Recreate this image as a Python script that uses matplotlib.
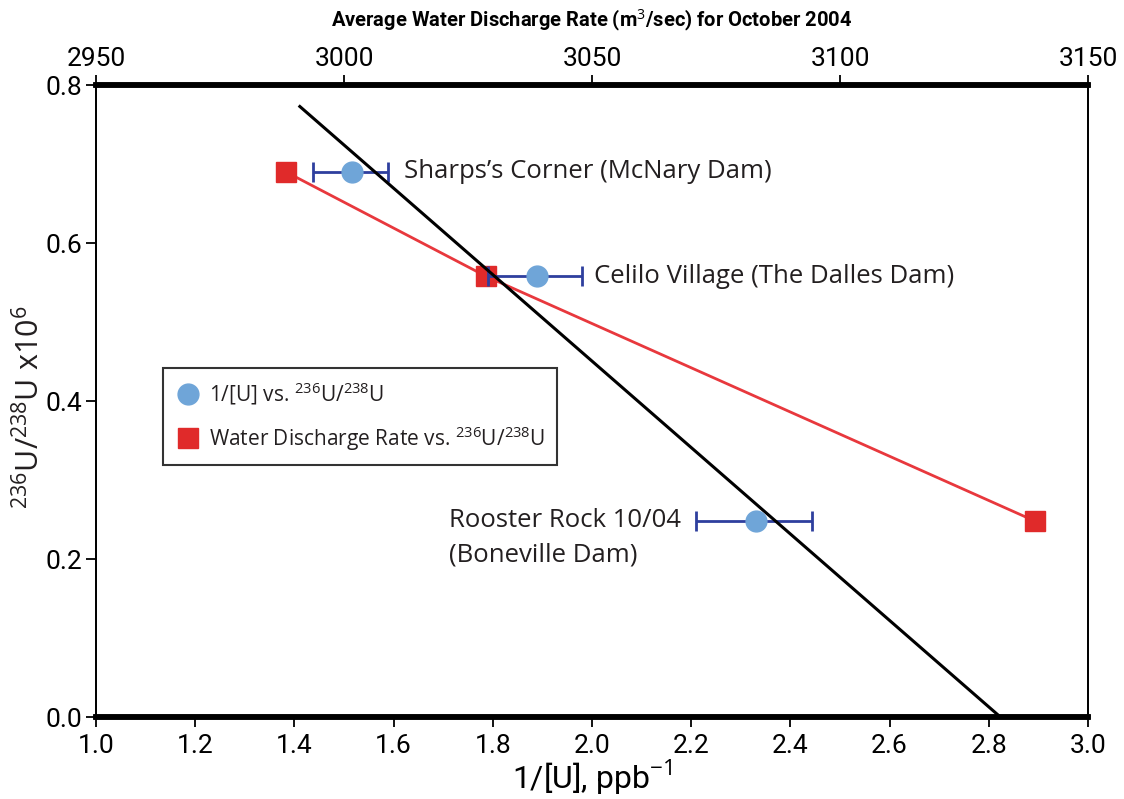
import numpy as np
import matplotlib
matplotlib.use("Agg")
import matplotlib.pyplot as plt

# data
sites = ["Sharps\u2019s Corner (McNary Dam)", "Celilo Village (The Dalles Dam)", "Rooster Rock 10/04\n(Boneville Dam)"]
inv_u = [1.516, 1.889, 2.331]
inv_u_lo = [1.438, 1.790, 2.210]
inv_u_hi = [1.589, 1.980, 2.444]
ratio = [0.690, 0.558, 0.248]
discharge = [2988.3, 3028.6, 3139.3]

narrow = 'Roboto'
body = 'Open Sans'
plt.rcParams['font.family'] = [body, 'DejaVu Sans']
plt.rcParams['mathtext.fontset'] = 'custom'
plt.rcParams['mathtext.rm'] = body
plt.rcParams['mathtext.it'] = body

fig = plt.figure(figsize=(11.24, 7.99), dpi=100)
ax = fig.add_axes([0.0854, 0.1026, 0.8826, 0.7910])
ax_top = ax.twiny()
ax.set_zorder(ax_top.get_zorder() + 1)
ax.patch.set_visible(False)

# discharge series on top axis
ax_top.plot(discharge, ratio, color='#e8383d', lw=2, zorder=2)
ax_top.plot(discharge, ratio, 's', color='#e02a2a', ms=15, zorder=3)
ax_top.set_xlim(2950, 3150)
ax_top.set_xticks([2950, 3000, 3050, 3100, 3150])

# regression of 1/[U] vs ratio
slope, icpt = np.polyfit(inv_u, ratio, 1)
x_fit = np.array([1.411, -icpt / slope])
ax.plot(x_fit, slope * x_fit + icpt, color='black', lw=2.2, zorder=4)

xerr = [np.array(inv_u) - np.array(inv_u_lo), np.array(inv_u_hi) - np.array(inv_u)]
ax.errorbar(inv_u, ratio, xerr=xerr, fmt='none', ecolor='#2e3f9e', elinewidth=2,
            capsize=7, capthick=2, zorder=3)
ax.plot(inv_u, ratio, 'o', color='#6fa5d8', ms=15, zorder=5)

ax.set_xlim(1.0, 3.0)
ax.set_ylim(0.0, 0.8)
ax.set_xticks(np.arange(1.0, 3.01, 0.2))
ax.set_yticks([0.0, 0.2, 0.4, 0.6, 0.8])
ax.xaxis.set_major_formatter(matplotlib.ticker.FormatStrFormatter('%.1f'))

txt = '#231f20'
ax.text(1.62, 0.690, sites[0], fontsize=18.5, color=txt, va='center', ha='left')
ax.text(2.005, 0.558, sites[1], fontsize=18.5, color=txt, va='center', ha='left')
ax.text(1.712, 0.265, sites[2], fontsize=18.5, color=txt, va='top', ha='left',
        linespacing=1.5)

for a in (ax, ax_top):
    for s in ('left', 'right'):
        a.spines[s].set_linewidth(1.3)
    for s in ('top', 'bottom'):
        a.spines[s].set_linewidth(4)
    a.tick_params(direction='out', length=7, width=1.3, labelsize=19)
    for lab in a.get_xticklabels() + a.get_yticklabels():
        lab.set_family(narrow)
ax.tick_params(axis='x', pad=5)
ax.tick_params(axis='y', pad=3)
ax_top.tick_params(axis='x', pad=3)

ax.set_xlabel('1/[U], ppb$^{-1}$', fontsize=23, family=narrow, labelpad=0)
ax.set_ylabel('$^{236}$U/$^{238}$U x10$^{6}$', fontsize=22, color=txt)
ax.yaxis.set_label_coords(-0.05, 0.49)
ax_top.set_xlabel('Average Water Discharge Rate (m$^{3}$/sec) for October 2004',
                  fontsize=14.5, fontweight='bold', family=narrow, labelpad=15)

# legend
h1, = ax.plot([], [], 'o', color='#6fa5d8', ms=15)
h2, = ax.plot([], [], 's', color='#e02a2a', ms=14)
leg = ax.legend([h1, h2], ['1/[U] vs. $^{236}$U/$^{238}$U', 'Water Discharge Rate vs. $^{236}$U/$^{238}$U'],
                loc='upper left', bbox_to_anchor=(0.0675, 0.552), borderaxespad=0,
                fontsize=15, frameon=True, fancybox=False, edgecolor='black',
                borderpad=0.6, labelspacing=0.8, handletextpad=0.4, handlelength=1.2)
leg.get_frame().set_linewidth(1.5)
for t in leg.get_texts():
    t.set_color(txt)

fig.savefig('out.png', dpi=100)
